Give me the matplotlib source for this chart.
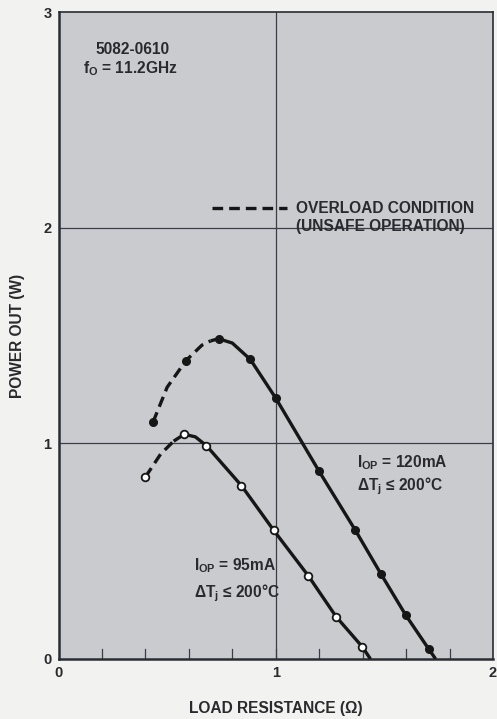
import matplotlib.pyplot as plt
import numpy as np

plt.rcParams['font.family'] = ['Liberation Sans', 'DejaVu Sans']
plt.rcParams['mathtext.default'] = 'regular'
plt.rcParams['mathtext.fontset'] = 'custom'
plt.rcParams['mathtext.rm'] = 'Liberation Sans:bold'
plt.rcParams['mathtext.it'] = 'Liberation Sans:bold'
plt.rcParams['mathtext.bf'] = 'Liberation Sans:bold'

# I_OP = 120mA curve (filled dots)
hi_x = [0.435, 0.587, 0.737, 0.883, 1.001, 1.198, 1.367, 1.485, 1.598, 1.705]
hi_y = [1.098, 1.384, 1.485, 1.389, 1.208, 0.873, 0.596, 0.393, 0.204, 0.045]
hi_dash_x = [0.435, 0.50, 0.587, 0.66, 0.70]
hi_dash_y = [1.098, 1.26, 1.384, 1.455, 1.475]
hi_solid_x = [0.70, 0.737, 0.80, 0.883, 1.001, 1.198, 1.367, 1.485, 1.598, 1.705, 1.736]
hi_solid_y = [1.475, 1.485, 1.465, 1.389, 1.208, 0.873, 0.596, 0.393, 0.204, 0.045, 0.0]

# I_OP = 95mA curve (open circles)
lo_x = [0.400, 0.579, 0.681, 0.842, 0.991, 1.149, 1.278, 1.398]
lo_y = [0.844, 1.042, 0.989, 0.804, 0.596, 0.387, 0.196, 0.057]
lo_dash_x = [0.400, 0.47, 0.53]
lo_dash_y = [0.844, 0.95, 1.01]
lo_solid_x = [0.53, 0.579, 0.63, 0.681, 0.842, 0.991, 1.149, 1.278, 1.398, 1.436]
lo_solid_y = [1.01, 1.042, 1.03, 0.989, 0.804, 0.596, 0.387, 0.196, 0.057, 0.0]

x_ticks = [0, 1, 2]
y_ticks = [0, 1, 2, 3]

fig = plt.figure(figsize=(4.97, 7.19), dpi=100, facecolor='#f2f2f0')
ax = fig.add_axes([58.5 / 497, 1 - 659 / 719, (493 - 58.5) / 497, (659 - 12) / 719])
ax.set_facecolor('#c9cbcf')
ax.set_xlim(0, 2)
ax.set_ylim(0, 3)

# grid at major ticks
for gx in [1]:
    ax.axvline(gx, color='#3a3e48', lw=0.9, zorder=1)
for gy in [1, 2]:
    ax.axhline(gy, color='#3a3e48', lw=0.9, zorder=1)

# minor inward ticks along the bottom
for mx in np.arange(0.2, 2.0, 0.2):
    ax.plot([mx, mx], [0, 0.045], color='#3a3e48', lw=0.9, zorder=1)

lc = '#161616'
ax.plot(hi_dash_x, hi_dash_y, color=lc, lw=2.4, ls=(0, (3.2, 1.8)), zorder=3)
ax.plot(hi_solid_x, hi_solid_y, color=lc, lw=2.4, zorder=3, solid_capstyle='butt')
ax.plot(hi_x, hi_y, 'o', color=lc, ms=5.5, zorder=4)

ax.plot(lo_dash_x, lo_dash_y, color=lc, lw=2.4, ls=(0, (3.2, 1.8)), zorder=3)
ax.plot(lo_solid_x, lo_solid_y, color=lc, lw=2.4, zorder=3, solid_capstyle='butt')
ax.plot(lo_x, lo_y, 'o', mfc='white', mec=lc, mew=1.3, ms=5.5, zorder=4)

# legend for dashed part
ax.plot([0.705, 1.05], [2.09, 2.09], color=lc, lw=2.4, ls=(0, (3.2, 1.8)), zorder=3)
tc = '#2a2a2e'
fs = 11.2
tw = 'bold'
ax.text(1.092, 2.09, 'OVERLOAD CONDITION', fontsize=fs, fontweight=tw, color=tc, va='center', ha='left')
ax.text(1.092, 2.006, '(UNSAFE OPERATION)', fontsize=fs, fontweight=tw, color=tc, va='center', ha='left')

ax.text(0.17, 2.824, '5082-0610', fontsize=fs, fontweight=tw, color=tc, va='center', ha='left')
ax.text(0.115, 2.736, 'f$_{O}$ = 11.2GHz', fontsize=fs, fontweight=tw, color=tc, va='center', ha='left')

ax.text(1.373, 0.91, 'I$_{OP}$ = 120mA', fontsize=fs, fontweight=tw, color=tc, va='center', ha='left')
ax.text(1.373, 0.80, '\u0394T$_{j}$ \u2264 200\u00b0C', fontsize=fs, fontweight=tw, color=tc, va='center', ha='left')

ax.text(0.622, 0.432, 'I$_{OP}$ = 95mA', fontsize=fs, fontweight=tw, color=tc, va='center', ha='left')
ax.text(0.622, 0.307, '\u0394T$_{j}$ \u2264 200\u00b0C', fontsize=fs, fontweight=tw, color=tc, va='center', ha='left')

for s in ax.spines.values():
    s.set_color('#2a2c34')
    s.set_linewidth(1.2)
ax.spines['left'].set_linewidth(1.8)
ax.spines['bottom'].set_linewidth(1.8)

ax.set_xticks(x_ticks)
ax.set_yticks(y_ticks)
ax.set_xticklabels([str(v) for v in x_ticks], fontsize=10.5, fontweight='bold', color=tc)
ax.set_yticklabels([str(v) for v in y_ticks], fontsize=10.5, fontweight='bold', color=tc)
ax.tick_params(length=0, pad=5)

ax.set_xlabel('LOAD RESISTANCE (\u03a9)', fontsize=fs, fontweight=tw, color=tc, labelpad=15)
ax.set_ylabel('POWER OUT (W)', fontsize=fs, fontweight=tw, color=tc, labelpad=13)

fig.savefig('out.png', dpi=100, facecolor=fig.get_facecolor())
